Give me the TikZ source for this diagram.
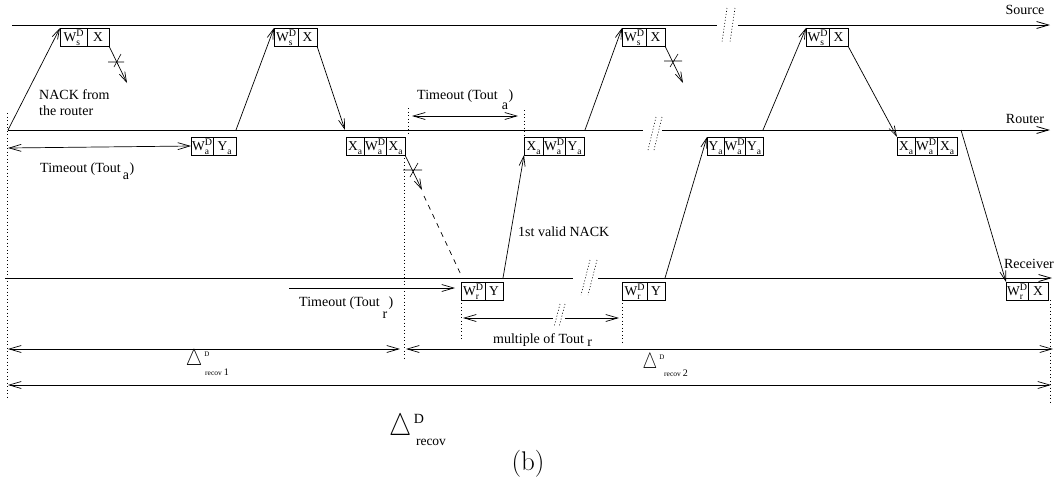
\documentclass[tikz,border=0pt]{standalone}
\usepackage{fontspec}
\newfontfamily\tms{Liberation Serif}
\usetikzlibrary{arrows.meta}
\newcommand\sbx[2]{#1\raisebox{-3.5pt}{\fontsize{9.5}{9.5}\selectfont #2}}
\newcommand\sbsp[3]{#1\makebox[0pt][l]{\raisebox{-3.5pt}{\fontsize{9.5}{9.5}\selectfont #2}}\raisebox{5.5pt}{\fontsize{10}{10}\selectfont #3}}
\newcommand\dlt[2]{\scalebox{#1}[#2]{$\triangle$}}
\tikzset{
  axisline/.style={line width=0.8pt},
  axisarrow/.style={line width=0.8pt,-{Straight Barb[length=12pt,width=7pt]}},
  msg/.style={line width=0.7pt,-{Straight Barb[length=10pt,width=6pt]}},
  dimarr/.style={line width=0.7pt,{Straight Barb[length=12pt,width=7pt]}-{Straight Barb[length=12pt,width=7pt]}},
  dimleft/.style={line width=0.7pt,{Straight Barb[length=12pt,width=7pt]}-},
  dimright/.style={line width=0.7pt,-{Straight Barb[length=12pt,width=7pt]}},
  vdot/.style={line width=0.7pt,dash pattern=on 1pt off 2.5pt},
  brk/.style={line width=0.6pt,dash pattern=on 1pt off 2pt},
  crossmark/.style={line width=0.6pt},
  lostline/.style={line width=0.7pt,dash pattern=on 5pt off 5pt},
  cell/.style={draw,line width=0.7pt,inner sep=0pt,outer sep=0pt,minimum height=18pt,
    text height=9pt,text depth=0pt,anchor=north west,font=\tms\fontsize{13.5}{14}\selectfont},
  lbl/.style={inner sep=0pt,text height=9pt,text depth=0pt,font=\tms\fontsize{14}{16}\selectfont},
  sublbl/.style={inner sep=0pt,font=\tms\fontsize{14}{16}\selectfont},
}
\begin{document}
\begin{tikzpicture}[x=1pt,y=-1pt]
\useasboundingbox (0,0) rectangle (1060,491);

% ---- time axes
\coordinate (srcL) at (12,25);  \coordinate (srcG1) at (717,25);
\coordinate (srcG2) at (738,25); \coordinate (srcR) at (1050,25);
\coordinate (rtL) at (8,130);   \coordinate (rtG1) at (643,130);
\coordinate (rtG2) at (662,130); \coordinate (rtR) at (1050,130);
\coordinate (rcL) at (5,278);   \coordinate (rcG1) at (573,278);
\coordinate (rcG2) at (598,278); \coordinate (rcR) at (1052,278);
\draw[axisline] (srcL) -- (srcG1);
\draw[axisarrow] (srcG2) -- (srcR);
\draw[axisline] (rtL) -- (rtG1);
\draw[axisarrow] (rtG2) -- (rtR);
\draw[axisline] (rcL) -- (rcG1);
\draw[axisarrow] (rcG2) -- (rcR);
% break marks
\draw[brk] (727,8) -- (722,42) (735,8) -- (730,42);
\draw[brk] (656,117) -- (648,150) (662,117) -- (654,150);
\draw[brk] (590,260) -- (581,295) (597,260) -- (588,295);
\draw[brk] (560,304) -- (554,327) (565,304) -- (559,327);

\node[lbl] (lsrc) at (1025,10) {Source};
\node[lbl] (lrt) at (1025,119) {Router};
\node[lbl] (lrc) at (1029,264) {Receiver};

% ---- packet boxes: source
\node[cell,minimum width=27pt] (s1w) at (60,28) {\sbsp{W}{s}{D}};
\node[cell,minimum width=22pt] (s1x) at (87,28) {X};
\node[cell,minimum width=24pt] (s2w) at (274,28) {\sbsp{W}{s}{D}};
\node[cell,minimum width=19pt] (s2x) at (298,28) {X};
\node[cell,minimum width=24pt] (s3w) at (622,28) {\sbsp{W}{s}{D}};
\node[cell,minimum width=19pt] (s3x) at (646,28) {X};
\node[cell,minimum width=23pt] (s4w) at (806,28) {\sbsp{W}{s}{D}};
\node[cell,minimum width=19pt] (s4x) at (829,28) {X};
% router
\node[cell,minimum width=22pt] (r1a) at (191,137) {\sbsp{W}{a}{D}};
\node[cell,minimum width=23pt] (r1b) at (213,137) {\sbx{Y}{a}};
\node[cell,minimum width=18pt] (r2a) at (346,137) {\sbx{X}{a}};
\node[cell,minimum width=22pt] (r2b) at (364,137) {\sbsp{W}{a}{D}};
\node[cell,minimum width=19pt] (r2c) at (386,137) {\sbx{X}{a}};
\node[cell,minimum width=19pt] (r3a) at (524,137) {\sbx{X}{a}};
\node[cell,minimum width=22pt] (r3b) at (543,137) {\sbsp{W}{a}{D}};
\node[cell,minimum width=19pt] (r3c) at (565,137) {\sbx{Y}{a}};
\node[cell,minimum width=17pt] (r4a) at (707,137) {\sbx{Y}{a}};
\node[cell,minimum width=21pt] (r4b) at (724,137) {\sbsp{W}{a}{D}};
\node[cell,minimum width=18pt] (r4c) at (745,137) {\sbx{Y}{a}};
\node[cell,minimum width=18pt] (r5a) at (897,137) {\sbx{X}{a}};
\node[cell,minimum width=22pt] (r5b) at (915,137) {\sbsp{W}{a}{D}};
\node[cell,minimum width=20pt] (r5c) at (937,137) {\sbx{X}{a}};
% receiver
\node[cell,minimum width=24pt] (v1a) at (461,282) {\sbsp{W}{r}{D}};
\node[cell,minimum width=18pt] (v1b) at (485,282) {Y};
\node[cell,minimum width=25pt] (v2a) at (622,282) {\sbsp{W}{r}{D}};
\node[cell,minimum width=18pt] (v2b) at (647,282) {Y};
\node[cell,minimum width=22pt] (v3a) at (1006,282) {\sbsp{W}{r}{D}};
\node[cell,minimum width=20pt] (v3b) at (1028,282) {X};

% ---- messages
\draw[msg] (rtL) -- (s1w.north west);
\coordinate (lost1) at (127,83);
\draw[msg] (s1x.south east) -- (lost1);
\draw[crossmark] (108,62) -- (124,62) (121,54) -- (114,67);

\coordinate (m2) at (236,130);
\draw[msg] (m2) -- (s2w.north west);
\coordinate (m3) at (345,130);
\draw[msg] (s2x.south east) -- (m3);

\coordinate (lost2) at (422,190);
\coordinate (lost2b) at (424,196);
\coordinate (lost2c) at (462,277);
\draw[msg] (r2c.south east) -- (lost2);
\draw[crossmark] (403,170) -- (422,170) (418,163) -- (410,177);
\draw[lostline] (lost2b) -- (lost2c);

\coordinate (m5) at (503,278);
\draw[msg] (m5) -- (r3a.south west);
\node[lbl,anchor=west] (nack1) at (518,232) {1st valid NACK};

\coordinate (m6) at (585,130);
\draw[msg] (m6) -- (s3w.north west);
\coordinate (lost3) at (683,83);
\draw[msg] (s3x.south east) -- (lost3);
\draw[crossmark] (664,61) -- (682,61) (678,54) -- (670,67);

\coordinate (m8) at (665,278);
\draw[msg] (m8) -- (r4a.north west);
\coordinate (m9) at (763,130);
\draw[msg] (m9) -- (s4w.north west);
\draw[msg] (s4x.south east) -- (r5a.north west);
\coordinate (m11) at (961,130);
\draw[msg] (m11) -- (v3a.north west);

\node[lbl,anchor=west] (nack0a) at (39,95) {NACK from};
\node[lbl,anchor=west] (nack0b) at (39,111) {the router};

% ---- dotted verticals
\draw[vdot] (7,113) -- (7,400);
\draw[vdot] (408,108) -- (408,136);
\draw[vdot] (404,158) -- (404,360);
\draw[vdot] (524,110) -- (524,136);
\draw[vdot] (461,303) -- (461,340);
\draw[vdot] (622,303) -- (622,343);
\draw[vdot] (1050,300) -- (1050,402);

% ---- timeouts
\coordinate (ta1) at (8,148);
\draw[dimarr] (ta1) -- (r1a.west);
\node[lbl,anchor=west] (tt1) at (40,168) {Timeout (Tout};
\node[sublbl] (tt1s) at (126,176) {a};
\node[lbl] (tt1p) at (132,168) {)};

\coordinate (ta2) at (412,116); \coordinate (ta2b) at (518,116);
\draw[dimarr] (ta2) -- (ta2b);
\node[lbl,anchor=west] (tt2) at (417,95) {Timeout (Tout};
\node[sublbl] (tt2s) at (505,106) {a};
\node[lbl] (tt2p) at (511,95) {)};

\coordinate (tr1) at (289,288); \coordinate (tr2) at (455,288);
\draw[dimright] (tr1) -- (tr2);
\node[lbl,anchor=west] (tt3) at (299,302) {Timeout (Tout};
\node[sublbl] (tt3s) at (385,315) {r};
\node[lbl] (tt3p) at (391,302) {)};

\coordinate (mu1) at (463,318); \coordinate (mu2) at (553,318);
\coordinate (mu3) at (565,318); \coordinate (mu4) at (619,318);
\draw[dimleft] (mu1) -- (mu2);
\draw[dimright] (mu3) -- (mu4);
\node[lbl,anchor=west] (mult) at (493,339) {multiple of Tout \raisebox{-3pt}{r}};

% ---- recovery intervals
\coordinate (d1a) at (8,349); \coordinate (d1b) at (400,349);
\coordinate (d2a) at (406,349); \coordinate (d2b) at (1053,349);
\coordinate (d3a) at (8,385); \coordinate (d3b) at (1051,385);
\draw[dimarr] (d1a) -- (d1b);
\draw[dimarr] (d2a) -- (d2b);
\draw[dimarr] (d3a) -- (d3b);

\node[inner sep=0pt] (del1) at (194,360) {\dlt{1.85}{2.3}};
\node[inner sep=0pt,font=\tms\fontsize{7}{7}\selectfont] (del1d) at (207,354) {D};
\node[inner sep=0pt,font=\tms\fontsize{7.5}{8}\selectfont] (del1s) at (217,372) {recov {\fontsize{10}{10}\selectfont 1}};

\node[inner sep=0pt] (del2) at (650,363) {\dlt{1.65}{2.2}};
\node[inner sep=0pt,font=\tms\fontsize{7}{7}\selectfont] (del2d) at (662,357) {D};
\node[inner sep=0pt,font=\tms\fontsize{7.5}{8}\selectfont] (del2s) at (676,373) {recov {\fontsize{10}{10}\selectfont 2}};

\node[inner sep=0pt] (del3) at (401,428) {\dlt{2.5}{3.1}};
\node[inner sep=0pt,font=\tms\fontsize{14}{14}\selectfont] (del3d) at (419,419) {D};
\node[inner sep=0pt,font=\tms\fontsize{13.5}{14}\selectfont] (del3s) at (431,442) {recov};

\node[inner sep=0pt,font=\fontsize{27}{27}\selectfont] (cap) at (528,464) {(b)};
\end{tikzpicture}
\end{document}
